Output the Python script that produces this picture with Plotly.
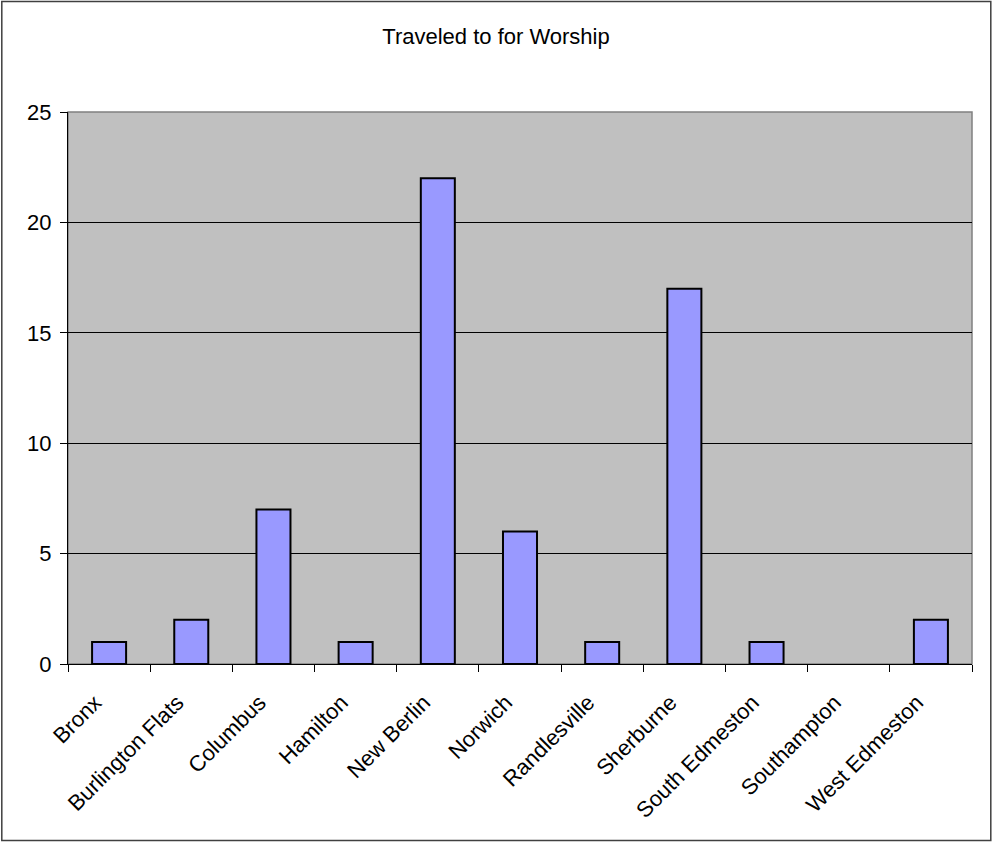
import plotly.graph_objects as go

categories = ["Bronx", "Burlington Flats", "Columbus", "Hamilton", "New Berlin",
              "Norwich", "Randlesville", "Sherburne", "South Edmeston",
              "Southampton", "West Edmeston"]
values = [1, 2, 7, 1, 22, 6, 1, 17, 1, 0, 2]
title_text = "Traveled to for Worship"
y_ticks = [0, 5, 10, 15, 20, 25]

FONT = "Arial, Liberation Sans, sans-serif"
W, H = 992, 842
L, R, T, B = 67.7, 992 - 971.7, 112, 842 - 664

fig = go.Figure(go.Bar(
    x=categories, y=values,
    marker=dict(color="#9999FF",
                line=dict(color="black", width=[2 if v > 0 else 0 for v in values])),
))

pw = W - L - R
ph = H - T - B


def px_x(p):
    return (p - L) / pw


def px_y(p):
    return (H - B - p) / ph


fig.update_layout(
    width=W, height=H,
    margin=dict(l=L, r=R, t=T, b=B, pad=0, autoexpand=False),
    paper_bgcolor="white",
    plot_bgcolor="#C0C0C0",
    bargap=0.586,
    showlegend=False,
    font=dict(family=FONT, size=22, color="black"),
    title=dict(text=title_text, x=0.5, xref="container", xanchor="center",
               y=1 - 36 / H, yref="container", yanchor="middle",
               font=dict(family=FONT, size=22, color="black")),
    xaxis=dict(type="category", tickson="boundaries", ticks="outside", ticklen=7,
               tickcolor="black", showline=True, linecolor="black", linewidth=1,
               tickangle=-45, showgrid=False, tickfont=dict(size=22),
               ticklabelstandoff=16, ticklabelshift=-14, automargin=False),
    yaxis=dict(range=[0, 25], tickvals=y_ticks, ticks="outside", ticklen=7,
               tickcolor="black", showline=True, linecolor="black", linewidth=1,
               showgrid=True, gridcolor="black", gridwidth=1, zeroline=False,
               tickfont=dict(size=22), ticklabelstandoff=4, automargin=False),
    shapes=[
        dict(type="rect", xref="paper", yref="paper", x0=0, x1=1, y0=0, y1=1,
             line=dict(color="#808080", width=1.5), layer="below"),
        dict(type="rect", xref="paper", yref="paper",
             x0=px_x(1.5), x1=px_x(990.5), y0=px_y(840.5), y1=px_y(1.5),
             line=dict(color="#404040", width=1.5)),
    ],
)

fig.write_html("out.html", config={"displayModeBar": False},
               post_script="document.body.style.margin='0';document.body.style.padding='0';")
